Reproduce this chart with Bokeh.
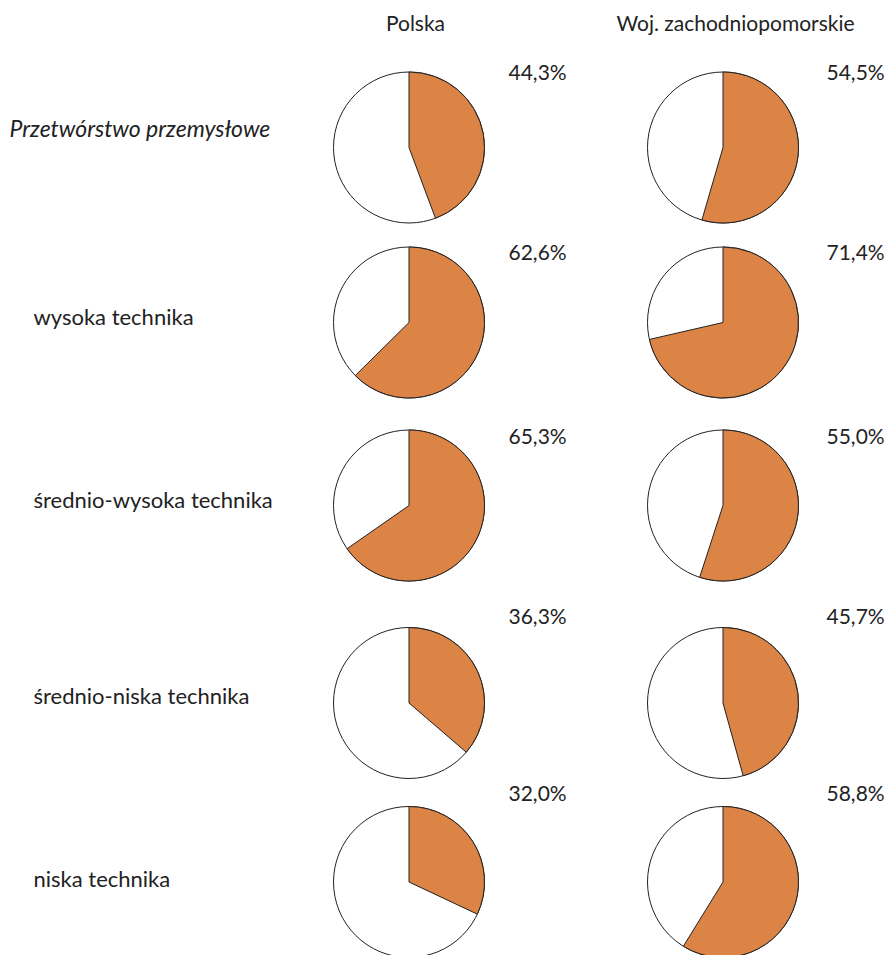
import math
from bokeh.plotting import figure
from bokeh.models import Range1d, ColumnDataSource
from bokeh.core.properties import value
from bokeh.embed import file_html
from bokeh.resources import INLINE

# ---- data ----
categories = ["Przetwórstwo przemysłowe", "wysoka technika", "średnio-wysoka technika",
              "średnio-niska technika", "niska technika"]
regions = ["Polska", "Woj. zachodniopomorskie"]
polska = [44.3, 62.6, 65.3, 36.3, 32.0]
zachodniopomorskie = [54.5, 71.4, 55.0, 45.7, 58.8]

# ---- layout (screen pixels) ----
FW, FH = 889, 955
col_x = [408.5, 722.5]
row_y = [147, 322, 505, 702.5, 881.5]
TS = 6  # text baseline correction
label_y = [133 - TS, 322 - TS, 505 - TS, 701 - TS, 884 - TS]
pct_y = [77 - TS, 257 - TS, 441 - TS, 621 - TS, 798 - TS]
pct_x = [508, 826]
title_x = [415, 735]
title_y = 28 - TS
R = 75.5
ORANGE = "#DC8446"
FONT = "Lato"

def px(x):
    return x

def py(y):
    return FH - y

p = figure(width=FW, height=FH, output_backend="svg", toolbar_location=None,
           x_range=Range1d(0, FW), y_range=Range1d(0, FH), min_border=0)
p.axis.visible = False
p.grid.visible = False
p.outline_line_color = None
p.background_fill_color = "white"

series = [polska, zachodniopomorskie]
cx, cy, st, en, lbl, lx, ly = [], [], [], [], [], [], []
for ci, vals in enumerate(series):
    for ri, v in enumerate(vals):
        cx.append(px(col_x[ci]))
        cy.append(py(row_y[ri]))
        st.append(math.pi / 2 - v / 100 * 2 * math.pi)
        en.append(math.pi / 2)
        lbl.append(f"{v:.1f}".replace(".", ",") + "%")
        lx.append(px(pct_x[ci]))
        ly.append(py(pct_y[ri]))

src = ColumnDataSource(dict(x=cx, y=cy, start=st, end=en, label=lbl, lx=lx, ly=ly))

p.circle(x="x", y="y", radius=R, radius_units="screen", source=src,
         fill_color="white", line_color="#222222", line_width=1)
p.wedge(x="x", y="y", radius=R, radius_units="screen", start_angle="start",
        end_angle="end", direction="anticlock", source=src,
        fill_color=ORANGE, line_color="#222222", line_width=1)

p.text(x="lx", y="ly", text="label", source=src, text_font=value(FONT),
       text_font_size="21px", text_color="#222222", text_baseline="alphabetic",
       text_align="left")

# column titles
p.text(x=[px(x) for x in title_x], y=[py(title_y)] * 2, text=regions,
       text_font=value(FONT), text_font_size="21px", text_color="#222222",
       text_baseline="alphabetic", text_align="center")

# row labels
p.text(x=[px(9)], y=[py(label_y[0])], text=[categories[0]], text_font=value(FONT),
       text_font_size="23px", text_font_style="italic", text_color="#222222",
       text_baseline="alphabetic", text_align="left")
p.text(x=[px(33)] * 4, y=[py(v) for v in label_y[1:]], text=categories[1:],
       text_font=value(FONT), text_font_size="22px", text_color="#222222",
       text_baseline="alphabetic", text_align="left")

open("out.html", "w").write(file_html(p, INLINE))
